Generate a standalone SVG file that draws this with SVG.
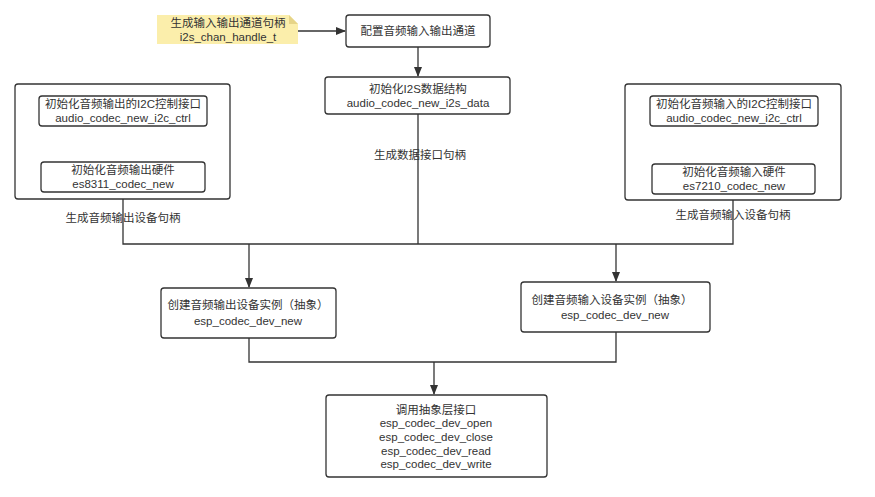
<svg xmlns="http://www.w3.org/2000/svg" width="875" height="497" viewBox="0 0 875 497">
<style>
.b{fill:#fff;stroke:#333;stroke-width:1.3}
.t{font-family:"Liberation Sans","Noto Sans CJK SC",sans-serif;font-size:11.5px;fill:#333;text-anchor:middle}
.c{fill:none;stroke:#333;stroke-width:1.3}
</style>
<defs><marker id="a" markerWidth="10" markerHeight="10" refX="9" refY="5" orient="auto" markerUnits="userSpaceOnUse"><path d="M0,1 L10,5 L0,9 Z" fill="#333"/></marker></defs>
<rect width="875" height="497" fill="#fff"/>
<g id="connectors">
<path class="c" d="M298,31 H345" marker-end="url(#a)"/>
<path class="c" d="M418,47 V76" marker-end="url(#a)"/>
<path class="c" d="M123,126 V161" marker-end="url(#a)"/>
<path class="c" d="M734,126 V163" marker-end="url(#a)"/>
<path class="c" d="M418,114 V244 M123,199 V244 H733 V199"/>
<path class="c" d="M249,244 V287" marker-end="url(#a)"/>
<path class="c" d="M616,244 V281" marker-end="url(#a)"/>
<path class="c" d="M249,338 V362 H616 V332"/>
<path class="c" d="M434,362 V394" marker-end="url(#a)"/>
</g>
<g id="note"><path d="M157,15 H289 L298,24 V44 H157 Z" fill="#fbeeab"/><path d="M289,15 V24 H298 Z" fill="#e6d488"/>
<text class="t" x="228" y="27">生成输入输出通道句柄</text><text class="t" x="228" y="41">i2s_chan_handle_t</text></g>
<g id="cfg"><rect class="b" x="346" y="15" width="144" height="32" rx="3"/><text class="t" x="418" y="35">配置音频输入输出通道</text></g>
<g id="i2s"><rect class="b" x="325" y="77" width="185" height="37" rx="3"/><text class="t" x="418" y="93">初始化I2S数据结构</text><text class="t" x="418" y="107">audio_codec_new_i2s_data</text></g>
<text class="t" x="420" y="159">生成数据接口句柄</text>
<g id="outgrp"><rect class="b" x="15" y="84" width="215" height="115" rx="3"/></g>
<g id="outctrl"><rect class="b" x="39" y="96" width="168" height="30" rx="3"/><text class="t" x="123" y="108">初始化音频输出的I2C控制接口</text><text class="t" x="123" y="122">audio_codec_new_i2c_ctrl</text></g>
<g id="outhw"><rect class="b" x="41" y="162" width="164" height="30" rx="3"/><text class="t" x="123" y="174">初始化音频输出硬件</text><text class="t" x="123" y="188">es8311_codec_new</text></g>
<text class="t" x="123" y="222">生成音频输出设备句柄</text>
<g id="ingrp"><rect class="b" x="625" y="84" width="216" height="116" rx="3"/></g>
<g id="inctrl"><rect class="b" x="650" y="96" width="168" height="30" rx="3"/><text class="t" x="734" y="108">初始化音频输入的I2C控制接口</text><text class="t" x="734" y="122">audio_codec_new_i2c_ctrl</text></g>
<g id="inhw"><rect class="b" x="652" y="164" width="163" height="30" rx="3"/><text class="t" x="734" y="176">初始化音频输入硬件</text><text class="t" x="734" y="190">es7210_codec_new</text></g>
<text class="t" x="733" y="219">生成音频输入设备句柄</text>
<g id="outdev"><rect class="b" x="161" y="288" width="175" height="50" rx="3"/><text class="t" x="248" y="309">创建音频输出设备实例（抽象）</text><text class="t" x="248" y="325">esp_codec_dev_new</text></g>
<g id="indev"><rect class="b" x="521" y="282" width="189" height="50" rx="3"/><text class="t" x="612" y="304">创建音频输入设备实例（抽象）</text><text class="t" x="615" y="319">esp_codec_dev_new</text></g>
<g id="api"><rect class="b" x="326" y="395" width="221" height="82" rx="3"/>
<text class="t" x="436" y="414">调用抽象层接口</text><text class="t" x="436" y="427">esp_codec_dev_open</text><text class="t" x="436" y="441">esp_codec_dev_close</text><text class="t" x="436" y="455">esp_codec_dev_read</text><text class="t" x="436" y="468">esp_codec_dev_write</text></g>
</svg>
